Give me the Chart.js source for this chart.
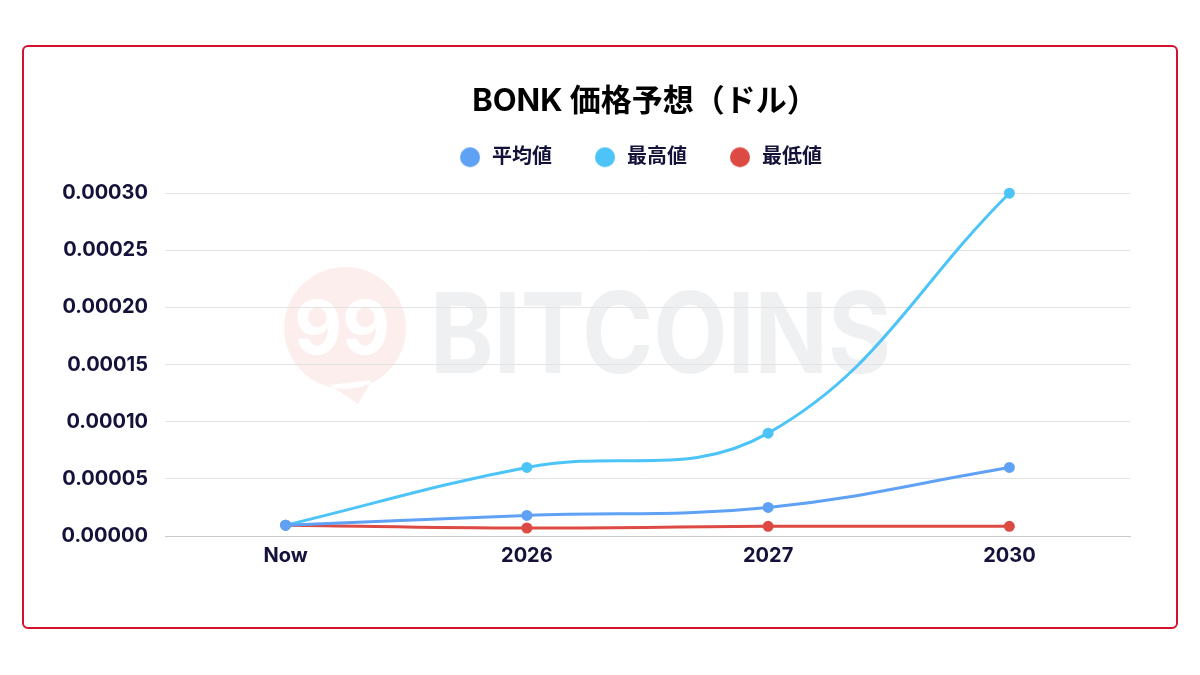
<!DOCTYPE html>
<html>
<head>
<meta charset="utf-8">
<script src="https://cdn.jsdelivr.net/npm/chart.js@4.4.1/dist/chart.umd.min.js"></script>
<style>
  html, body { margin: 0; padding: 0; background: #fff; }
  #wrap { position: relative; width: 1200px; height: 675px; }
  #frame { position: absolute; left: 22px; top: 45px; width: 1152px; height: 580px;
           border: 2px solid #d3132e; border-radius: 6px; }
  #wrap canvas { position: absolute; left: 0; top: 0; }
</style>
</head>
<body>
<div id="wrap">
  <div id="frame"></div>
  <canvas id="bonkChart" width="1200" height="675"></canvas>
</div>
<script>
const labels = ['Now', '2026', '2027', '2030'];
const seriesNames = ['平均値', '最高値', '最低値'];
const avgPrice = [0.0000095, 0.000018, 0.000025, 0.00006];
const maxPrice = [0.0000095, 0.00006, 0.00009, 0.0003];
const minPrice = [0.0000095, 0.000007, 0.0000085, 0.0000085];
const yTicks = [0, 0.00005, 0.0001, 0.00015, 0.0002, 0.00025, 0.0003];
const colors = ['#5fa1f5', '#4cc4f8', '#dd4a44'];

const fontFam = "Inter, 'Noto Sans CJK JP', sans-serif";
const ink = '#14123a';

// legend dot
function legendDot(color) {
  const cv = document.createElement('canvas');
  cv.width = 48; cv.height = 22;
  const c = cv.getContext('2d');
  c.fillStyle = color;
  c.beginPath();
  c.arc(19, 11, 10, 0, Math.PI * 2);
  c.fill();
  return cv;
}
const dots = colors.map(legendDot);

// watermark behind grid lines
const watermark = {
  id: 'watermark',
  beforeDraw(chart) {
    const c = chart.ctx;
    c.save();
    c.fillStyle = 'rgba(240, 90, 90, 0.1)';
    c.beginPath();
    c.arc(345, 328, 61, 0, Math.PI * 2);
    c.moveTo(330, 385);
    c.lineTo(358, 404);
    c.lineTo(372, 380);
    c.fill();
    c.fillStyle = '#ffffff';
    c.font = "bold 74px " + fontFam;
    c.textAlign = 'center';
    c.textBaseline = 'middle';
    c.fillText('99', 342, 332);
    c.fillStyle = 'rgba(225, 228, 232, 0.55)';
    c.font = "bold 112px " + fontFam;
    c.textAlign = 'left';
    c.translate(430, 339);
    c.scale(0.86, 1);
    c.fillText('BITCOINS', 0, 0);
    c.restore();
  }
};

// extra room between the legend and the plot
const legendGap = {
  id: 'legendGap',
  afterInit(chart) {
    const fit = chart.legend.fit;
    chart.legend.fit = function () {
      fit.call(this);
      this.height += 16;
    };
  }
};

const ctx = document.getElementById('bonkChart').getContext('2d');
const bonkChart = new Chart(ctx, {
  type: 'line',
  data: {
    labels: labels,
    datasets: [
      { label: seriesNames[0], data: avgPrice, borderColor: colors[0], backgroundColor: colors[0] },
      { label: seriesNames[1], data: maxPrice, borderColor: colors[1], backgroundColor: colors[1] },
      { label: seriesNames[2], data: minPrice, borderColor: colors[2], backgroundColor: colors[2] }
    ]
  },
  options: {
    responsive: false,
    animation: false,
    tension: 0.4,
    borderWidth: 3,
    pointRadius: 4,
    clip: false,
    layout: { padding: { left: 160, right: 70, top: 79, bottom: 99 } },
    plugins: {
      title: {
        display: true,
        text: 'BONK 価格予想（ドル）',
        color: '#000',
        font: { family: fontFam, size: 31, weight: 'bold' },
        padding: { top: 4, bottom: -24 }
      },
      legend: {
        labels: {
          usePointStyle: true,
          pointStyleWidth: 14,
          boxHeight: 20,
          padding: 51,
          color: ink,
          font: { family: fontFam, size: 20, weight: 'bold' },
          generateLabels: chart => {
            const items = Chart.defaults.plugins.legend.labels.generateLabels(chart);
            items.forEach((it, i) => { it.pointStyle = dots[i]; });
            return items;
          }
        }
      },
      tooltip: { enabled: false }
    },
    scales: {
      x: {
        offset: true,
        grid: { display: false, drawTicks: false },
        border: { display: true, color: '#c9c9c9', width: 1 },
        ticks: { color: ink, padding: 8, font: { family: fontFam, size: 20, weight: 'bold' } }
      },
      y: {
        min: 0,
        max: 0.0003,
        afterFit: s => {
          s.width = 5;
          s._computeLabelArea = () => undefined; // let the labels spill left of the thin axis box
        },
        afterBuildTicks: s => { s.ticks = yTicks.map(v => ({ value: v })); },
        grid: { color: '#e3e3e3', drawTicks: false },
        border: { display: false },
        ticks: {
          color: ink,
          padding: 17,
          font: { family: fontFam, size: 20, weight: 'bold' },
          callback: v => Number(v).toFixed(5)
        }
      }
    }
  },
  plugins: [watermark, legendGap]
});
</script>
</body>
</html>
